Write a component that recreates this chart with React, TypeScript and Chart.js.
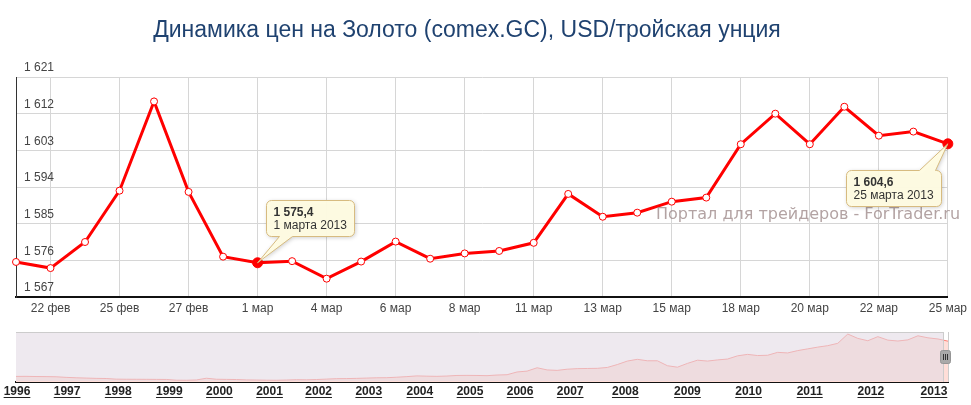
import React, { useEffect, useRef } from 'react';
import { Chart, registerables } from 'chart.js';

Chart.register(...registerables);

const FONT = '"Liberation Sans", Arial, Helvetica, sans-serif';
const WM_FONT = '"DejaVu Sans", Verdana, sans-serif';

const TITLE = 'Динамика цен на Золото (comex.GC), USD/тройская унция';
const WATERMARK = 'Портал для трейдеров - ForTrader.ru';

// Main series: trading days 21 Feb – 25 Mar 2013
const categories = [
  '21 фев', '22 фев', '24 фев', '25 фев', '26 фев', '27 фев', '28 фев',
  '1 мар', '3 мар', '4 мар', '5 мар', '6 мар', '7 мар', '8 мар',
  '10 мар', '11 мар', '12 мар', '13 мар', '14 мар', '15 мар', '17 мар',
  '18 мар', '19 мар', '20 мар', '21 мар', '22 мар', '24 мар', '25 мар',
];
const goldPrices = [
  1575.6, 1574.1, 1580.5, 1593.1, 1615.0, 1592.8, 1576.9,
  1575.4, 1575.8, 1571.5, 1575.7, 1580.6, 1576.4, 1577.7,
  1578.3, 1580.3, 1592.3, 1586.7, 1587.7, 1590.4, 1591.4,
  1604.5, 1612.0, 1604.5, 1613.7, 1606.6, 1607.6, 1604.6,
];
const yMin = 1567;
const yMax = 1621;
const yStep = 9;

const highlightIndex = [7, 27];
const highlightDates = ['1 марта 2013', '25 марта 2013'];

// Navigator (1996 – 2013), ordinal slots
const navYears = [
  '1996', '1997', '1998', '1999', '2000', '2001', '2002', '2003', '2004',
  '2005', '2006', '2007', '2008', '2009', '2010', '2011', '2012', '2013',
];
const navYearSlots = [
  0.1, 5.1, 10.2, 15.3, 20.3, 25.3, 30.2, 35.2, 40.3,
  45.3, 50.3, 55.3, 60.8, 67.0, 73.1, 79.2, 85.3, 91.6,
];
const navPrices = [
  392, 395, 388, 385, 380, 360, 345, 335, 325, 320,
  298, 295, 294, 292, 290, 288, 262, 260, 270, 330,
  295, 290, 285, 272, 268, 262, 260, 268, 280, 275,
  285, 300, 315, 318, 325, 335, 345, 348, 365, 385,
  410, 400, 395, 405, 425, 428, 425, 418, 440, 450,
  545, 575, 690, 615, 600, 640, 660, 665, 670, 700,
  800, 920, 980, 930, 930, 760, 710, 840, 950, 920,
  960, 990, 1100, 1150, 1110, 1120, 1220, 1200, 1280, 1340,
  1400, 1450, 1530, 1850, 1700, 1620, 1760, 1640, 1610, 1650,
  1790, 1720, 1680, 1605,
];
const navMin = 200;
const navMax = 1920;
const navSelectionStart = 92.5;

function fmtInt(v: number): string {
  return String(Math.round(v)).replace(/\B(?=(\d{3})+(?!\d))/g, ' ');
}
function fmtPrice(v: number): string {
  const [i, d] = v.toFixed(1).split('.');
  return i.replace(/\B(?=(\d{3})+(?!\d))/g, ' ') + ',' + d;
}

function calloutPath(
  c: CanvasRenderingContext2D, x: number, y: number, w: number, h: number, r: number,
  side: 'top' | 'bottom', b1: number, b2: number, tx: number, ty: number,
) {
  c.beginPath();
  c.moveTo(x + r, y);
  if (side === 'top') { c.lineTo(b1, y); c.lineTo(tx, ty); c.lineTo(b2, y); }
  c.lineTo(x + w - r, y);
  c.arcTo(x + w, y, x + w, y + r, r);
  c.lineTo(x + w, y + h - r);
  c.arcTo(x + w, y + h, x + w - r, y + h, r);
  if (side === 'bottom') { c.lineTo(b2, y + h); c.lineTo(tx, ty); c.lineTo(b1, y + h); }
  c.lineTo(x + r, y + h);
  c.arcTo(x, y + h, x, y + h - r, r);
  c.lineTo(x, y + r);
  c.arcTo(x, y, x + r, y, r);
  c.closePath();
}

const mainOverlay = {
  id: 'mainOverlay',
  beforeDraw(chart: any) {
    const c: CanvasRenderingContext2D = chart.ctx;
    c.save();
    c.font = `23px ${FONT}`;
    c.fillStyle = '#1f4270';
    c.textAlign = 'center';
    c.textBaseline = 'alphabetic';
    c.fillText(TITLE, 467, 36.5);
    c.restore();
  },
  afterDatasetsDraw(chart: any) {
    const c: CanvasRenderingContext2D = chart.ctx;
    const area = chart.chartArea;
    c.save();
    // watermark
    c.font = `16px ${WM_FONT}`;
    c.fillStyle = 'rgba(150,128,128,0.72)';
    c.textAlign = 'left';
    c.textBaseline = 'alphabetic';
    c.fillText(WATERMARK, 656, 219);

    // callouts
    const meta = chart.getDatasetMeta(0);
    highlightIndex.forEach((idx, k) => {
      const pt = meta.data[idx];
      const valText = fmtPrice(goldPrices[idx]);
      const dateText = highlightDates[k];
      c.font = `bold 12px ${FONT}`;
      const w1 = c.measureText(valText).width;
      c.font = `12px ${FONT}`;
      const w2 = c.measureText(dateText).width;
      const w = Math.round(Math.max(w1, w2) + 15);
      const h = 36;
      let bx: number; let by: number; let side: 'top' | 'bottom'; let b1: number; let b2: number;
      if (pt.x + 8 + w <= area.right) {
        bx = Math.round(pt.x + 8) + 0.5; by = Math.round(pt.y - 63) + 0.5; side = 'bottom';
        b1 = bx + 13; b2 = bx + 26;
      } else {
        bx = Math.round(pt.x - 7 - w) + 0.5; by = Math.round(pt.y + 26) + 0.5; side = 'top';
        b1 = bx + w - 22; b2 = bx + w - 6;
      }
      c.save();
      c.shadowColor = 'rgba(0,0,0,0.22)';
      c.shadowBlur = 4;
      c.shadowOffsetX = 1;
      c.shadowOffsetY = 1;
      calloutPath(c, bx, by, w, h, 5, side, b1, b2, pt.x, pt.y);
      c.fillStyle = 'rgba(255,252,226,0.96)';
      c.fill();
      c.restore();
      calloutPath(c, bx, by, w, h, 5, side, b1, b2, pt.x, pt.y);
      c.strokeStyle = '#d7bb80';
      c.lineWidth = 1;
      c.stroke();
      c.fillStyle = '#333333';
      c.textBaseline = 'middle';
      c.textAlign = 'left';
      c.font = `bold 12px ${FONT}`;
      c.fillText(valText, bx + 7, by + 12.5);
      c.font = `12px ${FONT}`;
      c.fillText(dateText, bx + 7, by + 25.5);
    });
    c.restore();
  },
};

const navOverlay = {
  id: 'navOverlay',
  afterDatasetsDraw(chart: any) {
    const c: CanvasRenderingContext2D = chart.ctx;
    const a = chart.chartArea;
    const xs = chart.scales.x;
    const selX = Math.round(xs.getPixelForValue(navSelectionStart)) + 0.5;
    c.save();
    c.fillStyle = 'rgba(226,218,228,0.6)';
    c.fillRect(a.left, a.top, selX - a.left, a.bottom - a.top - 1);
    c.strokeStyle = '#cccccc';
    c.lineWidth = 1;
    c.beginPath();
    c.moveTo(a.left, Math.round(a.top) + 0.5);
    c.lineTo(selX, Math.round(a.top) + 0.5);
    c.moveTo(selX, a.top);
    c.lineTo(selX, a.bottom);
    c.moveTo(Math.round(a.right) + 0.5, a.top);
    c.lineTo(Math.round(a.right) + 0.5, a.bottom);
    c.stroke();
    // handle
    const hx = Math.round(a.right) - 7.5;
    const hy = Math.round((a.top + a.bottom) / 2) - 6.5;
    c.beginPath();
    c.moveTo(hx + 2, hy);
    c.arcTo(hx + 10, hy, hx + 10, hy + 13, 2);
    c.arcTo(hx + 10, hy + 13, hx, hy + 13, 2);
    c.arcTo(hx, hy + 13, hx, hy, 2);
    c.arcTo(hx, hy, hx + 10, hy, 2);
    c.closePath();
    c.fillStyle = '#a9a9a9';
    c.fill();
    c.strokeStyle = '#959595';
    c.stroke();
    c.strokeStyle = '#333333';
    c.beginPath();
    [3, 5, 7].forEach((d) => {
      c.moveTo(hx + d, hy + 3.5);
      c.lineTo(hx + d, hy + 9.5);
    });
    c.stroke();
    c.restore();
  },
  afterDraw(chart: any) {
    const c: CanvasRenderingContext2D = chart.ctx;
    const xs = chart.scales.x;
    const a = chart.chartArea;
    c.save();
    c.font = `bold 12px ${FONT}`;
    c.strokeStyle = '#222222';
    c.lineWidth = 1;
    c.beginPath();
    xs.ticks.forEach((t: any, i: number) => {
      const x = xs.getPixelForValue(t.value);
      const w = c.measureText(navYears[i]).width;
      const y = Math.round(a.bottom) + 15.5;
      c.moveTo(x - w / 2, y);
      c.lineTo(x + w / 2, y);
    });
    c.stroke();
    c.restore();
  },
};

export default function App() {
  const mainRef = useRef<HTMLCanvasElement>(null);
  const navRef = useRef<HTMLCanvasElement>(null);

  useEffect(() => {
    Chart.defaults.font.family = FONT;
    const main = new Chart(mainRef.current as HTMLCanvasElement, {
      type: 'line',
      data: {
        labels: categories,
        datasets: [{
          data: goldPrices,
          borderColor: '#ff0000',
          borderWidth: 3,
          tension: 0,
          fill: false,
          pointRadius: (ctx: any) => (highlightIndex.includes(ctx.dataIndex) ? 5 : 3.5),
          pointBackgroundColor: (ctx: any) => (highlightIndex.includes(ctx.dataIndex) ? '#ff0000' : '#ffffff'),
          pointBorderColor: '#ff0000',
          pointBorderWidth: 1,
        }],
      },
      options: {
        responsive: false,
        animation: false,
        events: [],
        layout: { padding: { left: 0, right: 23, top: 77, bottom: 0.6 } },
        plugins: {
          legend: { display: false },
          tooltip: { enabled: false },
          title: { display: false },
        },
        scales: {
          x: {
            type: 'category',
            offset: false,
            grid: {
              color: (ctx: any) => (ctx.index % 2 === 1 ? '#d6d6d6' : 'rgba(0,0,0,0)'),
              drawTicks: false,
              lineWidth: 1,
            },
            border: { color: '#111111', width: 2 },
            ticks: {
              autoSkip: false,
              maxRotation: 0,
              padding: 4,
              color: '#444444',
              font: { family: FONT, size: 12 },
              callback: (_v: any, i: number) => (i % 2 === 1 ? categories[i] : ''),
            },
          },
          y: {
            min: yMin,
            max: yMax,
            grid: { color: '#d6d6d6', drawTicks: false, lineWidth: 1 },
            border: { color: '#333333', width: 1 },
            ticks: {
              stepSize: yStep,
              mirror: true,
              padding: 8,
              labelOffset: -9,
              color: '#444444',
              font: { family: FONT, size: 12 },
              callback: (v: any) => fmtInt(Number(v)),
            },
          },
        },
      } as any,
      plugins: [mainOverlay],
    });

    const nav = new Chart(navRef.current as HTMLCanvasElement, {
      type: 'line',
      data: {
        datasets: [{
          data: navPrices.map((v, i) => ({ x: i, y: v })),
          borderColor: 'rgb(255,125,115)',
          borderWidth: 1,
          pointRadius: 0,
          tension: 0,
          fill: 'start',
          backgroundColor: 'rgb(255,222,216)',
        }],
      },
      options: {
        responsive: false,
        animation: false,
        events: [],
        layout: { padding: { left: 16, right: 23, top: 12, bottom: 4.6 } },
        plugins: { legend: { display: false }, tooltip: { enabled: false } },
        scales: {
          x: {
            type: 'linear',
            min: 0,
            max: navPrices.length - 1,
            grid: { display: false, drawTicks: false },
            border: { display: true, color: '#111111', width: 2 },
            afterBuildTicks: (scale: any) => {
              scale.ticks = navYearSlots.map((v) => ({ value: v }));
            },
            ticks: {
              autoSkip: false,
              maxRotation: 0,
              padding: 2,
              color: '#222222',
              font: { family: FONT, size: 12, weight: 'bold' },
              callback: (_v: any, i: number) => navYears[i],
            },
          },
          y: { display: false, min: navMin, max: navMax },
        },
      } as any,
      plugins: [navOverlay],
    });

    return () => {
      main.destroy();
      nav.destroy();
    };
  }, []);

  return (
    <div style={{ position: 'fixed', left: 0, top: 0, width: 971, height: 405, background: '#ffffff', overflow: 'hidden' }}>
      <canvas ref={mainRef} width={971} height={320} style={{ display: 'block' }} />
      <canvas ref={navRef} width={971} height={85} style={{ display: 'block' }} />
    </div>
  );
}
